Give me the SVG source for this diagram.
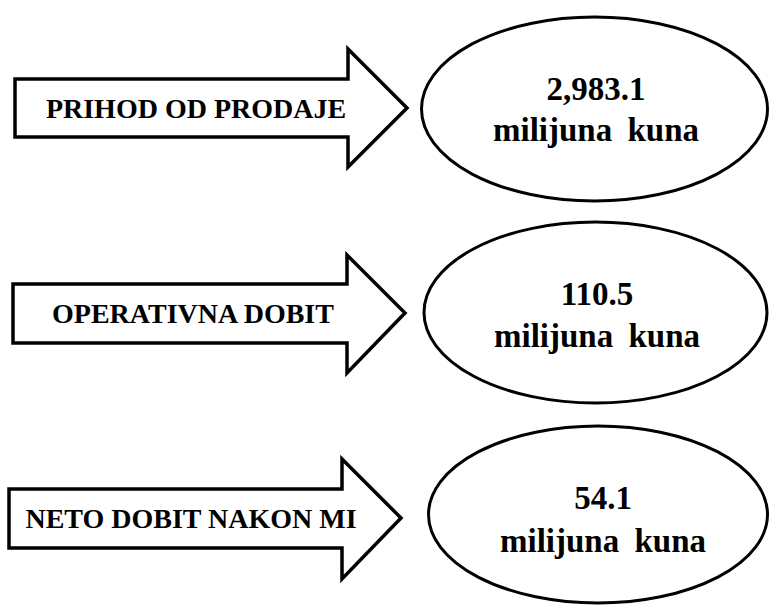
<svg xmlns="http://www.w3.org/2000/svg" width="769" height="606" viewBox="0 0 769 606">
<style>
.arrow{fill:#fff;stroke:#000;stroke-width:3.5;stroke-linejoin:miter}
.oval{fill:#fff;stroke:#000;stroke-width:3}
text{font-family:'Liberation Serif','Times New Roman',serif;font-weight:700;fill:#000;text-anchor:middle}
.lbl{font-size:28px}
.val{font-size:33px}
.unit{word-spacing:7px}
</style>
<rect width="769" height="606" fill="#fff"/>
<g id="connectors">
<g id="arrow1"><polygon class="arrow" points="15,79 348,79 348,49 407,108 348,167 348,137 15,137"/><text class="lbl" x="196" y="118">PRIHOD OD PRODAJE</text></g>
<g id="arrow2"><polygon class="arrow" points="13,284 347,284 347,255 405,313 347,373 347,343 13,343"/><text class="lbl" x="193" y="323">OPERATIVNA DOBIT</text></g>
<g id="arrow3"><polygon class="arrow" points="9,489 342,489 342,459 401,518 342,579 342,548 9,548"/><text class="lbl" x="191" y="528">NETO DOBIT NAKON MI</text></g>
</g>
<g id="node1"><ellipse class="oval" cx="594.5" cy="109" rx="173" ry="92"/><text class="val" x="596" y="100">2,983.1</text><text class="val unit" x="596" y="141">milijuna kuna</text></g>
<g id="node2"><ellipse class="oval" cx="595.5" cy="312.5" rx="171.5" ry="90.5"/><text class="val" x="597" y="305">110.5</text><text class="val unit" x="597" y="347">milijuna kuna</text></g>
<g id="node3"><ellipse class="oval" cx="598" cy="514.5" rx="169.5" ry="88.5"/><text class="val" x="603" y="509">54.1</text><text class="val unit" x="603" y="552">milijuna kuna</text></g>
</svg>
